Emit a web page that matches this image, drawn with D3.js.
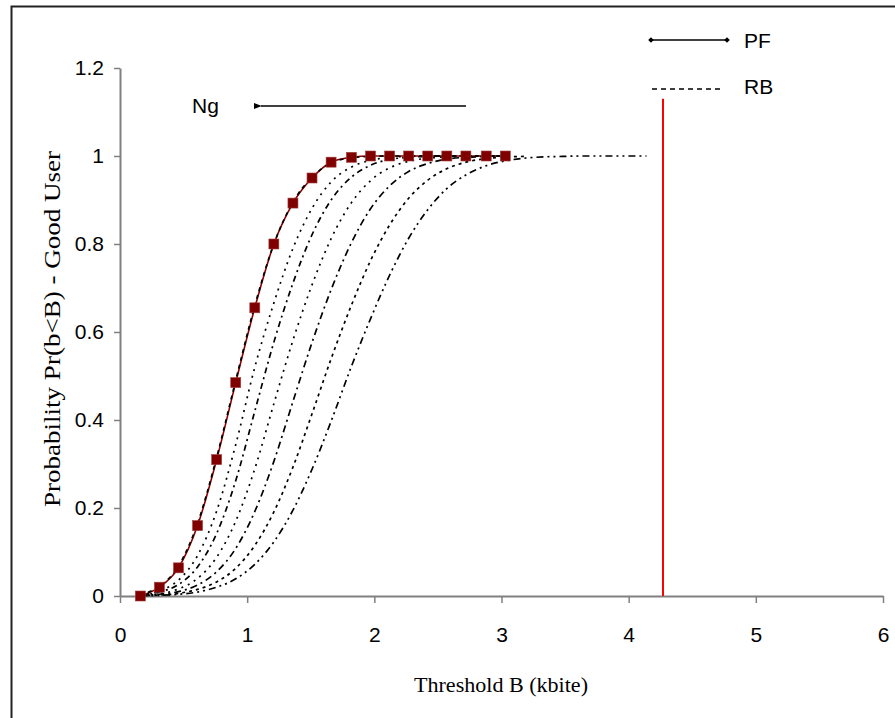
<!DOCTYPE html>
<html>
<head>
<meta charset="utf-8">
<script src="https://cdn.jsdelivr.net/npm/d3@7"></script>
<style>
  body { margin: 0; background: #fff; }
</style>
</head>
<body>
<div id="chart"></div>
<script>
// PF curve (markers + solid line)
const pfX = [0.16, 0.31, 0.46, 0.61, 0.76, 0.91, 1.06, 1.21, 1.36, 1.51, 1.66, 1.82, 1.97, 2.12, 2.27, 2.42, 2.57, 2.72, 2.88, 3.03];
const pfY = [0, 0.02, 0.064, 0.16, 0.31, 0.485, 0.655, 0.80, 0.893, 0.95, 0.986, 0.997, 1, 1, 1, 1, 1, 1, 1, 1];

// RB curves (dashed), shared x grid
const rbX = [0.16, 0.31, 0.46, 0.61, 0.76, 0.91, 1.06, 1.21, 1.36, 1.51, 1.66, 1.82, 1.97, 2.12, 2.27, 2.42, 2.57, 2.72, 2.88, 3.03, 3.18, 3.33, 3.48, 3.63, 3.78, 3.94, 4.14];
const rb1 = [0.003, 0.022, 0.068, 0.165, 0.315, 0.49, 0.66, 0.80, 0.895, 0.952, 0.984, 0.996, 0.999, 1, 1, 1, 1, 1, 1, 1];
const rb2 = [0.003, 0.012, 0.036, 0.092, 0.193, 0.344, 0.52, 0.666, 0.79, 0.881, 0.941, 0.975, 0.99, 0.997, 0.999, 1, 1, 1, 1, 1];
const rb3 = [0.0025, 0.009, 0.026, 0.066, 0.142, 0.262, 0.42, 0.577, 0.711, 0.821, 0.90, 0.952, 0.979, 0.992, 0.997, 0.999, 1, 1, 1, 1];
const rb4 = [0.002, 0.005, 0.016, 0.04, 0.088, 0.17, 0.289, 0.437, 0.581, 0.707, 0.812, 0.894, 0.944, 0.973, 0.988, 0.995, 0.998, 0.9995, 1, 1];
const rb5 = [0.001, 0.004, 0.01, 0.025, 0.055, 0.108, 0.192, 0.306, 0.442, 0.576, 0.696, 0.803, 0.88, 0.932, 0.965, 0.983, 0.993, 0.997, 0.999, 1];
const rb6 = [0.001, 0.002, 0.006, 0.015, 0.032, 0.063, 0.115, 0.191, 0.293, 0.414, 0.539, 0.661, 0.762, 0.843, 0.904, 0.945, 0.971, 0.986, 0.994, 0.9975, 0.999];
const rb7 = [0.0006, 0.0015, 0.004, 0.009, 0.02, 0.039, 0.072, 0.123, 0.195, 0.288, 0.397, 0.522, 0.63, 0.729, 0.813, 0.878, 0.926, 0.957, 0.978, 0.989, 0.995, 0.998, 0.999, 1, 1, 1, 1];
const rbSeries = [rb1, rb2, rb3, rb4, rb5, rb6, rb7];

const xTicks = [0, 1, 2, 3, 4, 5, 6];
const yTicks = [0, 0.2, 0.4, 0.6, 0.8, 1, 1.2];
const thresholdX = 4.27;
const thresholdTop = 1.13;

const width = 895, height = 718;

const svg = d3.select("#chart")
  .append("svg")
  .attr("width", width)
  .attr("height", height);

// outer frame
svg.append("path")
  .attr("d", "M11.5,720 V6.5 H900")
  .attr("fill", "none")
  .attr("stroke", "#222")
  .attr("stroke-width", 2);

const xScale = d3.scaleLinear().domain([0, 6]).range([120, 883]);
const yScale = d3.scaleLinear().domain([0, 1.2]).range([596, 68]);

// axes
const xAxis = svg.append("g")
  .attr("transform", `translate(0,${yScale(0)})`)
  .call(d3.axisBottom(xScale).tickValues(xTicks).tickSize(7).tickSizeOuter(0).tickPadding(24).tickFormat(d3.format("d")));

const yAxis = svg.append("g")
  .attr("transform", `translate(${xScale(0)},0)`)
  .call(d3.axisLeft(yScale).tickValues(yTicks).tickSize(6).tickSizeOuter(0).tickPadding(10).tickFormat(d => d));

[xAxis, yAxis].forEach(ax => {
  ax.select(".domain").attr("stroke", "#808080").attr("stroke-width", 2);
  ax.selectAll(".tick line").attr("stroke", "#808080").attr("stroke-width", 1.5);
  ax.selectAll(".tick text")
    .attr("fill", "#000")
    .style("font-family", "Liberation Sans, Arial, sans-serif")
    .style("font-size", "21px");
});

// axis titles
svg.append("text")
  .attr("x", 501)
  .attr("y", 692)
  .attr("text-anchor", "middle")
  .attr("textLength", 174)
  .attr("lengthAdjust", "spacingAndGlyphs")
  .style("font-family", "Liberation Serif, Times New Roman, serif")
  .style("font-size", "22px")
  .text("Threshold B (kbite)");

svg.append("text")
  .attr("transform", "translate(60,329) rotate(-90)")
  .attr("text-anchor", "middle")
  .attr("textLength", 356)
  .attr("lengthAdjust", "spacingAndGlyphs")
  .style("font-family", "Liberation Serif, Times New Roman, serif")
  .style("font-size", "23px")
  .text("Probability Pr(b<B)  -  Good User");

// red threshold line
svg.append("line")
  .attr("x1", xScale(thresholdX)).attr("x2", xScale(thresholdX))
  .attr("y1", yScale(0)).attr("y2", yScale(thresholdTop))
  .attr("stroke", "#ff0000")
  .attr("stroke-width", 2);

const line = d3.line()
  .x(d => xScale(d[0]))
  .y(d => yScale(d[1]))
  .curve(d3.curveMonotoneX);

// PF line
const pfData = pfX.map((x, i) => [x, pfY[i]]);
svg.append("path")
  .datum(pfData)
  .attr("d", line)
  .attr("fill", "none")
  .attr("stroke", "#8b0000")
  .attr("stroke-width", 1.6);

// RB dashed lines
const dashes = ["4,4", "2,5", "6,4,2,4", "2,5", "7,4,2,4", "3,4", "7,4,2,4,2,4"];
svg.selectAll(".rb")
  .data(rbSeries)
  .join("path")
  .attr("class", "rb")
  .attr("d", s => line(s.map((y, i) => [rbX[i], y])))
  .attr("fill", "none")
  .attr("stroke", "#000")
  .attr("stroke-width", 1.7)
  .attr("stroke-dasharray", (d, i) => dashes[i]);

// PF markers
svg.selectAll(".pf-mark")
  .data(pfData)
  .join("rect")
  .attr("class", "pf-mark")
  .attr("x", d => xScale(d[0]) - 5)
  .attr("y", d => yScale(d[1]) - 5)
  .attr("width", 10)
  .attr("height", 10)
  .attr("fill", "#800000")
  .attr("stroke", "#a04040")
  .attr("stroke-width", 0.6);

// Ng annotation + arrow
svg.append("defs").append("marker")
  .attr("id", "arrow")
  .attr("viewBox", "0 0 10 10")
  .attr("refX", 1).attr("refY", 5)
  .attr("markerWidth", 5).attr("markerHeight", 5)
  .attr("orient", "auto")
  .append("path")
  .attr("d", "M10,1 L0,5 L10,9 Z")
  .attr("fill", "#000");

svg.append("text")
  .attr("x", 192).attr("y", 113)
  .style("font-family", "Liberation Sans, Arial, sans-serif")
  .style("font-size", "21px")
  .text("Ng");

svg.append("line")
  .attr("x1", 466).attr("y1", 106)
  .attr("x2", 261).attr("y2", 106)
  .attr("stroke", "#000")
  .attr("stroke-width", 1.6)
  .attr("marker-end", "url(#arrow)");

// legend
const legend = svg.append("g");
legend.append("line")
  .attr("x1", 651).attr("x2", 727).attr("y1", 40).attr("y2", 40)
  .attr("stroke", "#000").attr("stroke-width", 1.6);
[651, 727].forEach(x => {
  legend.append("path")
    .attr("d", d3.symbol(d3.symbolDiamond2, 20)())
    .attr("transform", `translate(${x},40)`)
    .attr("fill", "#000");
});
legend.append("text")
  .attr("x", 744).attr("y", 48)
  .style("font-family", "Liberation Sans, Arial, sans-serif")
  .style("font-size", "21px")
  .text("PF");

legend.append("line")
  .attr("x1", 652).attr("x2", 724).attr("y1", 89).attr("y2", 89)
  .attr("stroke", "#000").attr("stroke-width", 1.3)
  .attr("stroke-dasharray", "5,4");
legend.append("text")
  .attr("x", 744).attr("y", 94)
  .style("font-family", "Liberation Sans, Arial, sans-serif")
  .style("font-size", "21px")
  .text("RB");
</script>
</body>
</html>
